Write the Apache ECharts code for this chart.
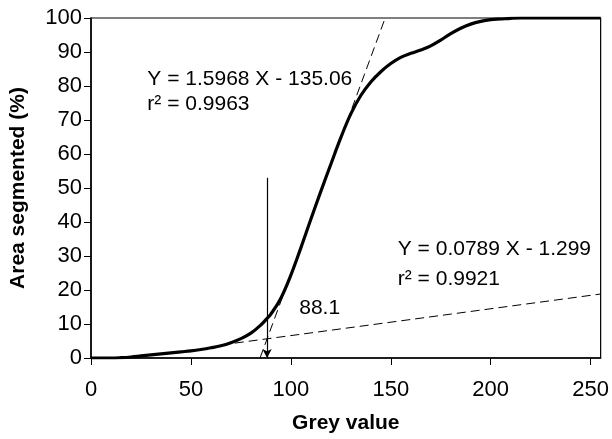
<!DOCTYPE html>
<html>
<head>
<meta charset="utf-8">
<script src="https://cdn.jsdelivr.net/npm/echarts@6/dist/echarts.min.js"></script>
<style>
html,body{margin:0;padding:0;background:#fff;overflow:hidden;}
#c{width:612px;height:439px;}
</style>
</head>
<body>
<div id="c"></div>
<script>
// Data
var greyValues = [0,10,15,20,25,30,35,40,45,50,55,60,65,70,75,80,85,88,90,95,100,105,110,115,120,125,130,135,140,145,150,155,160,165,170,175,180,185,190,195,200,205,210,215,220,230,240,250,255];
var areaSegmented = [0,0,0.1,0.3,0.6,0.9,1.2,1.5,1.8,2.1,2.5,3.0,3.6,4.5,5.7,7.3,9.7,11.6,12.9,17.6,24.4,32.4,40.8,49,57,64.8,71.8,77.2,81.2,84.2,86.6,88.4,89.6,90.6,91.8,93.5,95.4,97,98.2,99,99.5,99.7,99.9,100,100,100,100,100,100];
var xTicks = [0,50,100,150,200,250];
var yTicks = [0,10,20,30,40,50,60,70,80,90,100];
// Regression lines (endpoints from the printed equations)
var steepFit = {slope:1.5968, intercept:-135.06, from:84.58, to:147.2};
var shallowFit = {slope:0.0789, intercept:-1.299, from:65, to:255};
var threshold = {x:88.1, top:53};
var labels = {
  steepEq:'Y = 1.5968 X - 135.06', steepR:'r² = 0.9963',
  shallowEq:'Y = 0.0789 X - 1.299', shallowR:'r² = 0.9921',
  thr:'88.1'
};
// Annotation anchors in data coordinates
var anchors = {
  steepEq:[28.2,82], steepR:[28.2,74.5],
  shallowEq:[153.5,32], shallowR:[153.5,23.2],
  thr:[104.2,14.5]
};

function fitLine(f){ return [[f.from, f.slope*f.from+f.intercept],[f.to, f.slope*f.to+f.intercept]]; }
var curve = greyValues.map(function(x,i){return [x, areaSegmented[i]];});

var FONT = 'Liberation Sans, Arial, sans-serif';
var chart = echarts.init(document.getElementById('c'));
chart.setOption({
  animation:false,
  backgroundColor:'#fff',
  grid:{left:91, right:11, top:18, bottom:76, show:true, borderColor:'#000', borderWidth:1.2, containLabel:false},
  xAxis:{type:'value', min:0, max:255, interval:50,
    name:'Grey value', nameLocation:'middle', nameGap:55,
    nameTextStyle:{fontFamily:FONT, fontSize:21, fontWeight:'bold', color:'#000'},
    axisLine:{lineStyle:{color:'#000', width:1.5}},
    axisTick:{show:true, length:7, lineStyle:{color:'#000', width:1}, customValues:xTicks},
    axisLabel:{fontFamily:FONT, fontSize:22, color:'#000', margin:21, customValues:xTicks},
    splitLine:{show:false}},
  yAxis:{type:'value', min:0, max:100, interval:10,
    name:'Area segmented (%)', nameLocation:'middle', nameGap:62,
    nameTextStyle:{fontFamily:FONT, fontSize:21, fontWeight:'bold', color:'#000'},
    axisLine:{lineStyle:{color:'#000', width:1.5}},
    axisTick:{show:true, length:7, lineStyle:{color:'#000', width:1}},
    axisLabel:{fontFamily:FONT, fontSize:22, color:'#000', margin:9, customValues:yTicks},
    splitLine:{show:false}},
  series:[
    {type:'line', data:fitLine(steepFit), showSymbol:false, symbol:'none', silent:true,
      lineStyle:{color:'#000', width:1, type:[9,5]}},
    {type:'line', data:fitLine(shallowFit), showSymbol:false, symbol:'none', silent:true,
      lineStyle:{color:'#000', width:1, type:[9,5]}},
    {type:'line', data:curve, showSymbol:false, symbol:'none', smooth:0.4,
      lineStyle:{color:'#000', width:3.2},
      markLine:{silent:true, symbol:['none','arrow'], symbolSize:[7,9], label:{show:false},
        lineStyle:{color:'#000', width:1.2, type:'solid'},
        data:[[{coord:[threshold.x, threshold.top]},{coord:[threshold.x, 0]}]]}}
  ]
});

function placeText(){
  var els = [];
  Object.keys(anchors).forEach(function(k){
    var p = chart.convertToPixel({gridIndex:0}, anchors[k]);
    els.push({type:'text', x:p[0], y:p[1], style:{text:labels[k], fontFamily:FONT, fontSize:21, fill:'#000', verticalAlign:'middle', align:'left'}});
  });
  chart.setOption({graphic:els});
}
placeText();
</script>
</body>
</html>
